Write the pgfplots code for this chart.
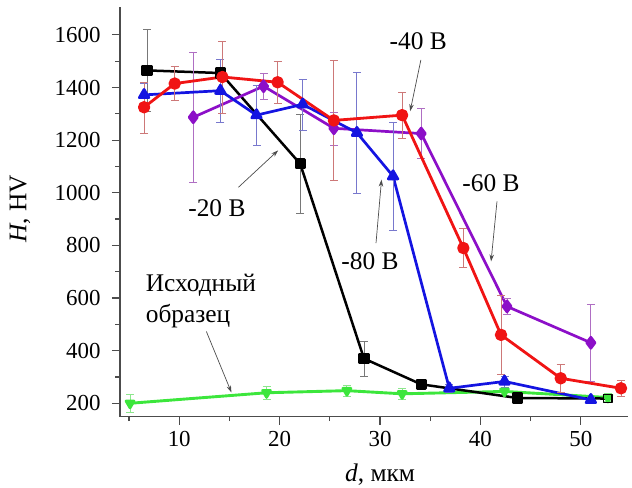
\documentclass[border=0pt]{standalone}
\usepackage{fontspec}
\setmainfont{Liberation Serif}
\usepackage{pgfplots}
\pgfplotsset{compat=1.18}
\usetikzlibrary{arrows.meta}
\definecolor{cred}{RGB}{240,20,20}
\definecolor{cblue}{RGB}{20,20,225}
\definecolor{cpurple}{RGB}{140,15,200}
\definecolor{cgreen}{RGB}{60,230,60}
\definecolor{ered}{RGB}{205,120,120}
\definecolor{eblue}{RGB}{120,120,205}
\definecolor{epurple}{RGB}{175,110,195}
\definecolor{eblack}{RGB}{120,120,120}
\definecolor{egreen}{RGB}{140,230,140}

\pgfplotstableread{
x y e
6.8 1465 155
14.1 1455 20
22.05 1110 187
28.4 370 66
34.1 272 15
43.7 220 8
52.7 218 0
}\blackdata
\pgfplotstableread{
x y e
6.5 1325 97
9.55 1415 65
14.3 1440 137
19.8 1420 80
25.4 1275 228
32.2 1295 87
38.3 790 74
42.05 460 150
48.0 295 52
54.0 257 29
}\reddata
\pgfplotstableread{
x y e
6.5 1372 45
14.1 1388 120
17.7 1295 115
22.3 1336 97
27.7 1228 229
31.3 1063 206
36.9 257 15
42.4 283 20
51.0 213 10
}\bluedata
\pgfplotstableread{
x y e
11.4 1287 247
18.4 1405 50
25.4 1245 63
34.1 1225 95
42.65 568 30
51.0 430 145
}\purpledata
\pgfplotstableread{
x y e
5.1 200 35
18.7 240 25
26.7 248 20
32.2 236 20
42.4 245 15
52.7 222 15
}\greendata

\begin{document}
\begin{tikzpicture}[font=\fontsize{25.5}{30}\selectfont]
\path[use as bounding box] (0,0) rectangle (632bp,488bp);
\begin{axis}[
  at={(120bp,71.3bp)}, anchor=south west,
  scale only axis, width=508bp, height=409.7bp,
  xmin=4.1, xmax=54.7, ymin=149, ymax=1706,
  axis x line*=bottom, axis y line*=left,
  axis line style={-, color=black!70, line width=1.5bp},
  xtick={10,20,30,40,50}, minor xtick={5,15,25,35,45},
  ytick={200,400,600,800,1000,1200,1400,1600},
  minor ytick={300,500,700,900,1100,1300,1500},
  tick align=outside, major tick length=8bp, minor tick length=4.5bp,
  every tick/.style={color=black!70, line width=1.2bp},
  /pgf/number format/assume math mode=true,
  /pgf/number format/1000 sep={},
  ticklabel style={font=\fontsize{23}{27}\selectfont},
  yticklabel style={xshift=-8bp},
  xticklabel style={yshift=-3bp},
  xlabel={\textit{d}, мкм},
  xlabel style={at={(rel axis cs:0.512,-0.1416)}, anchor=center, font=\fontsize{25.5}{30}\selectfont},
  ylabel={\textit{H}, HV},
  ylabel style={at={(rel axis cs:-0.197,0.507)}, anchor=center, font=\fontsize{25.5}{30}\selectfont},
  clip=false,
  every axis plot/.append style={line join=round},
]
% green (initial sample)
\addplot[color=cgreen, line width=2.9bp, mark=triangle*, mark options={rotate=180, scale=1, fill=cgreen, draw=cgreen}, mark size=4.5bp,
  error bars/.cd, y dir=both, y explicit,
  error bar style={color=egreen, line width=0.9bp},
  error mark options={rotate=90, mark size=4bp, color=egreen}]
  table[x=x, y=y, y error=e] {\greendata};
% black (-20 V)
\addplot[color=black, line width=2.5bp, mark=square*, mark size=4.4bp, mark indices={1,2,3,4,5,6},
  error bars/.cd, y dir=both, y explicit,
  error bar style={color=eblack, line width=0.9bp},
  error mark options={rotate=90, mark size=4bp, color=eblack}]
  table[x=x, y=y, y error=e] {\blackdata};
\addplot[only marks, mark=square, mark size=4.2bp, mark options={draw=black, line width=1.3bp}]
  coordinates {(52.7,218)};
% purple (-60 V)
\addplot[color=cpurple, line width=2.7bp, mark=diamond*, mark size=5.5bp,
  error bars/.cd, y dir=both, y explicit,
  error bar style={color=epurple, line width=0.9bp},
  error mark options={rotate=90, mark size=4bp, color=epurple}]
  table[x=x, y=y, y error=e] {\purpledata};
% blue (-80 V)
\addplot[color=cblue, line width=2.7bp, mark=triangle*, mark size=5.5bp,
  error bars/.cd, y dir=both, y explicit,
  error bar style={color=eblue, line width=0.9bp},
  error mark options={rotate=90, mark size=4bp, color=eblue}]
  table[x=x, y=y, y error=e] {\bluedata};
% red (-40 V)
\addplot[color=cred, line width=2.8bp, mark=*, mark size=4.8bp,
  error bars/.cd, y dir=both, y explicit,
  error bar style={color=ered, line width=0.9bp},
  error mark options={rotate=90, mark size=4bp, color=ered}]
  table[x=x, y=y, y error=e] {\reddata};

% annotations
\node at (axis cs:13.75,942) {-20 В};
\draw[-{Stealth[length=7bp,width=4.5bp]}, black!70, line width=0.7bp] (axis cs:15.9,1021) -- (axis cs:19.85,1161);
\node at (axis cs:33.8,1577) {-40 В};
\draw[-{Stealth[length=7bp,width=4.5bp]}, black!70, line width=0.7bp] (axis cs:34.07,1505) -- (axis cs:33.0,1310);
\node at (axis cs:29.0,739) {-80 В};
\draw[-{Stealth[length=7bp,width=4.5bp]}, black!70, line width=0.7bp] (axis cs:29.6,809) -- (axis cs:30.15,1050);
\node at (axis cs:41.06,1037) {-60 В};
\draw[-{Stealth[length=7bp,width=4.5bp]}, black!70, line width=0.7bp] (axis cs:41.65,967) -- (axis cs:41.06,739);
\node[align=left, anchor=west, font=\fontsize{25.5}{31}\selectfont, inner sep=0pt] at (axis cs:6.65,590) {Исходный\\образец};
\draw[-{Stealth[length=7bp,width=4.5bp]}, black!70, line width=0.7bp] (axis cs:12.7,473) -- (axis cs:15.2,241);
\end{axis}
\end{tikzpicture}
\end{document}
